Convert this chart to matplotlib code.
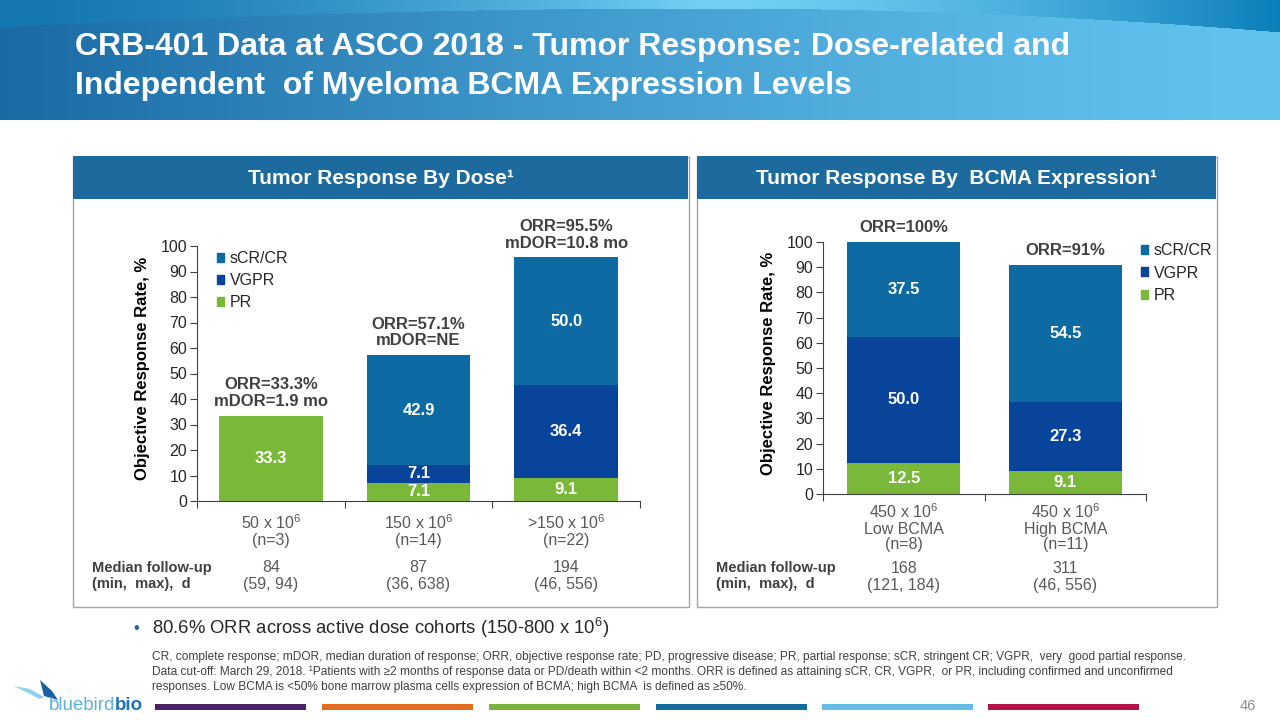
import numpy as np
import matplotlib
matplotlib.use('Agg')
import matplotlib.pyplot as plt
from matplotlib.patches import Rectangle, Polygon

plt.rcParams['font.family'] = ['Liberation Sans', 'DejaVu Sans']
plt.rcParams['mathtext.fontset'] = 'custom'
plt.rcParams['mathtext.rm'] = 'Liberation Sans'
plt.rcParams['mathtext.bf'] = 'Liberation Sans:bold'

# data - response by dose
dose_cats = ['50 x 10$^6$\n(n=3)', '150 x 10$^6$\n(n=14)', '>150 x 10$^6$\n(n=22)']
dose_pr = [33.3, 7.1, 9.1]
dose_vgpr = [0.0, 7.1, 36.4]
dose_cr = [0.0, 42.9, 50.0]
dose_orr = ['ORR=33.3%\nmDOR=1.9 mo', 'ORR=57.1%\nmDOR=NE', 'ORR=95.5%\nmDOR=10.8 mo']
dose_fu = ['84\n(59, 94)', '87\n(36, 638)', '194\n(46, 556)']

# data - response by BCMA expression
bcma_cats = ['450 x 10$^6$\nLow BCMA\n(n=8)', '450 x 10$^6$\nHigh BCMA\n(n=11)']
bcma_pr = [12.5, 9.1]
bcma_vgpr = [50.0, 27.3]
bcma_cr = [37.5, 54.5]
bcma_orr = ['ORR=100%', 'ORR=91%']
bcma_fu = ['168\n(121, 184)', '311\n(46, 556)']

series_names = ['sCR/CR', 'VGPR', 'PR']
c_cr = '#0d6aa3'
c_vgpr = '#08459a'
c_pr = '#7ab83a'

W, H = 1280, 720
fig = plt.figure(figsize=(12.8, 7.2), dpi=100)
bg = fig.add_axes([0, 0, 1, 1])
bg.axis('off')


def px_axes(x0, y0, x1, y1):
    return fig.add_axes([x0 / W, 1 - y1 / H, (x1 - x0) / W, (y1 - y0) / H])


def hexrgb(h):
    return np.array([int(h[i:i + 2], 16) for i in (1, 3, 5)]) / 255


# header gradient
xs = np.linspace(0, 1, W)
ys = np.arange(120)
t = 1 - (1 - xs) ** 1.3
left, right = hexrgb('#1a6aa4'), hexrgb('#62c3ef')
img = np.zeros((120, W, 3))
for i in range(3):
    img[:, :, i] = left[i] * (1 - t) + right[i] * t
# curved strip at the top: dark at both ends, light cyan in the middle
tl, tm, tr = hexrgb('#1577b0'), hexrgb('#74d0f6'), hexrgb('#0b7fb9')
top = np.zeros((W, 3))
for i in range(3):
    top[:, i] = np.where(xs < 0.55, tl[i] + (tm[i] - tl[i]) * (xs / 0.55) ** 1.5,
                         tm[i] + (tr[i] - tm[i]) * ((xs - 0.55) / 0.45) ** 1.5)
bound = np.where(xs < 0.55, 8 + 63 * (xs - 0.55) ** 2, 8 + 118 * (xs - 0.55) ** 2)
mask = ys[:, None] < bound[None, :]
img[mask] = np.broadcast_to(top[None, :, :], img.shape)[mask]
bg.imshow(img, extent=[0, W, 120, 0], aspect='auto', zorder=0)
bg.set_xlim(0, W)
bg.set_ylim(H, 0)
bg.text(75, 47, 'CRB-401 Data at ASCO 2018 - Tumor Response: Dose-related and',
        color='white', fontsize=23, fontweight='bold', va='center', ha='left')
bg.text(75, 86, 'Independent  of Myeloma BCMA Expression Levels',
        color='white', fontsize=23, fontweight='bold', va='center', ha='left')

# panel boxes + headers
for (x0, x1, title) in [(73, 689, 'Tumor Response By Dose¹'),
                        (697, 1217, 'Tumor Response By  BCMA Expression¹')]:
    bg.add_patch(Rectangle((x0, 157), x1 - x0, 450, fill=False, ec='#a6a6a6', lw=1))
    bg.add_patch(Rectangle((x0, 156), x1 - x0 - 1, 43, color='#1c6a9e', lw=0))
    bg.text((x0 + x1) / 2, 179, title, color='white', fontsize=15, fontweight='bold',
            ha='center', va='center')


def draw_chart(ax, cats, pr, vgpr, cr, orr, fu, fu_y, lab_x, leg_anchor, pad):
    x = np.arange(len(cats))
    bw = 0.70
    ax.bar(x, pr, bw, color=c_pr, label='PR')
    ax.bar(x, vgpr, bw, bottom=pr, color=c_vgpr, label='VGPR')
    b2 = np.array(pr) + np.array(vgpr)
    ax.bar(x, cr, bw, bottom=b2, color=c_cr, label='sCR/CR')
    for i in range(len(cats)):
        for v, b in [(pr[i], 0), (vgpr[i], pr[i]), (cr[i], b2[i])]:
            if v > 0:
                ax.text(x[i], b + v / 2, f'{v:.1f}', ha='center', va='center',
                        color='white', fontsize=12, fontweight='bold')
        total = pr[i] + vgpr[i] + cr[i]
        ax.annotate(orr[i], (x[i], total), xytext=(0, 5), textcoords='offset points',
                    ha='center', va='bottom', fontsize=12, fontweight='bold',
                    color='#404040', linespacing=1.15)
        ax.text(x[i], fu_y, fu[i], transform=ax.get_xaxis_transform(), ha='center',
                va='center', fontsize=11.5, color='#595959', linespacing=1.15)
    ax.set_xlim(-0.5, len(cats) - 0.5)
    ax.set_ylim(0, 100)
    ax.set_yticks(range(0, 101, 10))
    ax.set_xticks(x)
    ax.set_xticklabels(cats, fontsize=11.5, color='#595959', linespacing=1.05)
    ax.set_xticks(np.arange(-0.5, len(cats)), minor=True)
    ax.tick_params(axis='x', which='major', length=0, pad=pad)
    ax.tick_params(axis='x', which='minor', length=5, width=0.8, color='#404040')
    ax.tick_params(axis='y', length=5, width=0.8, color='#404040', labelsize=11.5,
                   labelcolor='#262626', pad=2)
    for s in ['top', 'right']:
        ax.spines[s].set_visible(False)
    for s in ['left', 'bottom']:
        ax.spines[s].set_color('#404040')
        ax.spines[s].set_linewidth(0.8)
    ax.set_ylabel('Objective Response Rate, %', fontsize=12, fontweight='bold',
                  color='#000000')
    ax.yaxis.set_label_coords(lab_x, 0.52)
    handles = [Rectangle((0, 0), 1, 1, color=c) for c in [c_cr, c_vgpr, c_pr]]
    ax.legend(handles, series_names, loc='upper left', bbox_to_anchor=leg_anchor,
              frameon=False, fontsize=11.5, handlelength=0.45, handleheight=0.5,
              handletextpad=0.35, labelspacing=0.45, borderaxespad=0,
              labelcolor='#262626')


ax1 = px_axes(197, 246, 640, 501)
draw_chart(ax1, dose_cats, dose_pr, dose_vgpr, dose_cr, dose_orr, dose_fu,
           -0.295, -0.105, (0.03, 1.005), 9)

ax2 = px_axes(823, 242, 1146, 494)
draw_chart(ax2, bcma_cats, bcma_pr, bcma_vgpr, bcma_cr, bcma_orr, bcma_fu,
           -0.33, -0.145, (0.965, 1.02), 6)

for x0 in [92, 716]:
    bg.text(x0, 576, 'Median follow-up\n(min,  max),  d', ha='left', va='center',
            fontsize=10.5, fontweight='bold', color='#404040', linespacing=1.2)

# footer
bg.text(133, 628, '•', fontsize=12, color='#1c6a9e', ha='left', va='center')
bg.text(152, 628, '80.6% ORR across active dose cohorts (150-800 x 10$^6$)',
        fontsize=13.3, color='#262626', ha='left', va='center')
foot = ['CR, complete response; mDOR, median duration of response; ORR, objective response rate; PD, progressive disease; PR, partial response; sCR, stringent CR; VGPR,  very  good partial response.',
        'Data cut-off: March 29, 2018. ¹Patients with ≥2 months of response data or PD/death within <2 months. ORR is defined as attaining sCR, CR, VGPR,  or PR, including confirmed and unconfirmed',
        'responses. Low BCMA is <50% bone marrow plasma cells expression of BCMA; high BCMA  is defined as ≥50%.']
for i, line in enumerate(foot):
    bg.text(152, 657 + 15 * i, line, fontsize=8.6, color='#404040', ha='left', va='center')

bar_cols = ['#4b2366', '#e46c1e', '#7ab53b', '#106c9c', '#62bce6', '#b5134b']
bar_x = [155, 322, 489, 656, 822, 988]
for c, x0 in zip(bar_cols, bar_x):
    bg.add_patch(Rectangle((x0, 704), 151, 6, color=c, lw=0))
bg.text(1248, 706, '46', fontsize=10.5, color='#8c8c8c', ha='center', va='center')

# logo
bg.add_patch(Polygon([(14, 686), (30, 689), (44, 697), (40, 699), (26, 692)],
                     color='#8fd0f0', lw=0))
bg.add_patch(Polygon([(40, 680), (52, 691), (58, 700), (44, 696)],
                     color='#1a5fa0', lw=0))
bg.text(49, 706, 'bluebird', fontsize=13.5, color='#5ab2dd', ha='left', va='center')
bg.text(115, 706, 'bio', fontsize=13.5, color='#1e72b8', ha='left', va='center',
        fontweight='bold')

fig.savefig('out.png', dpi=100)
